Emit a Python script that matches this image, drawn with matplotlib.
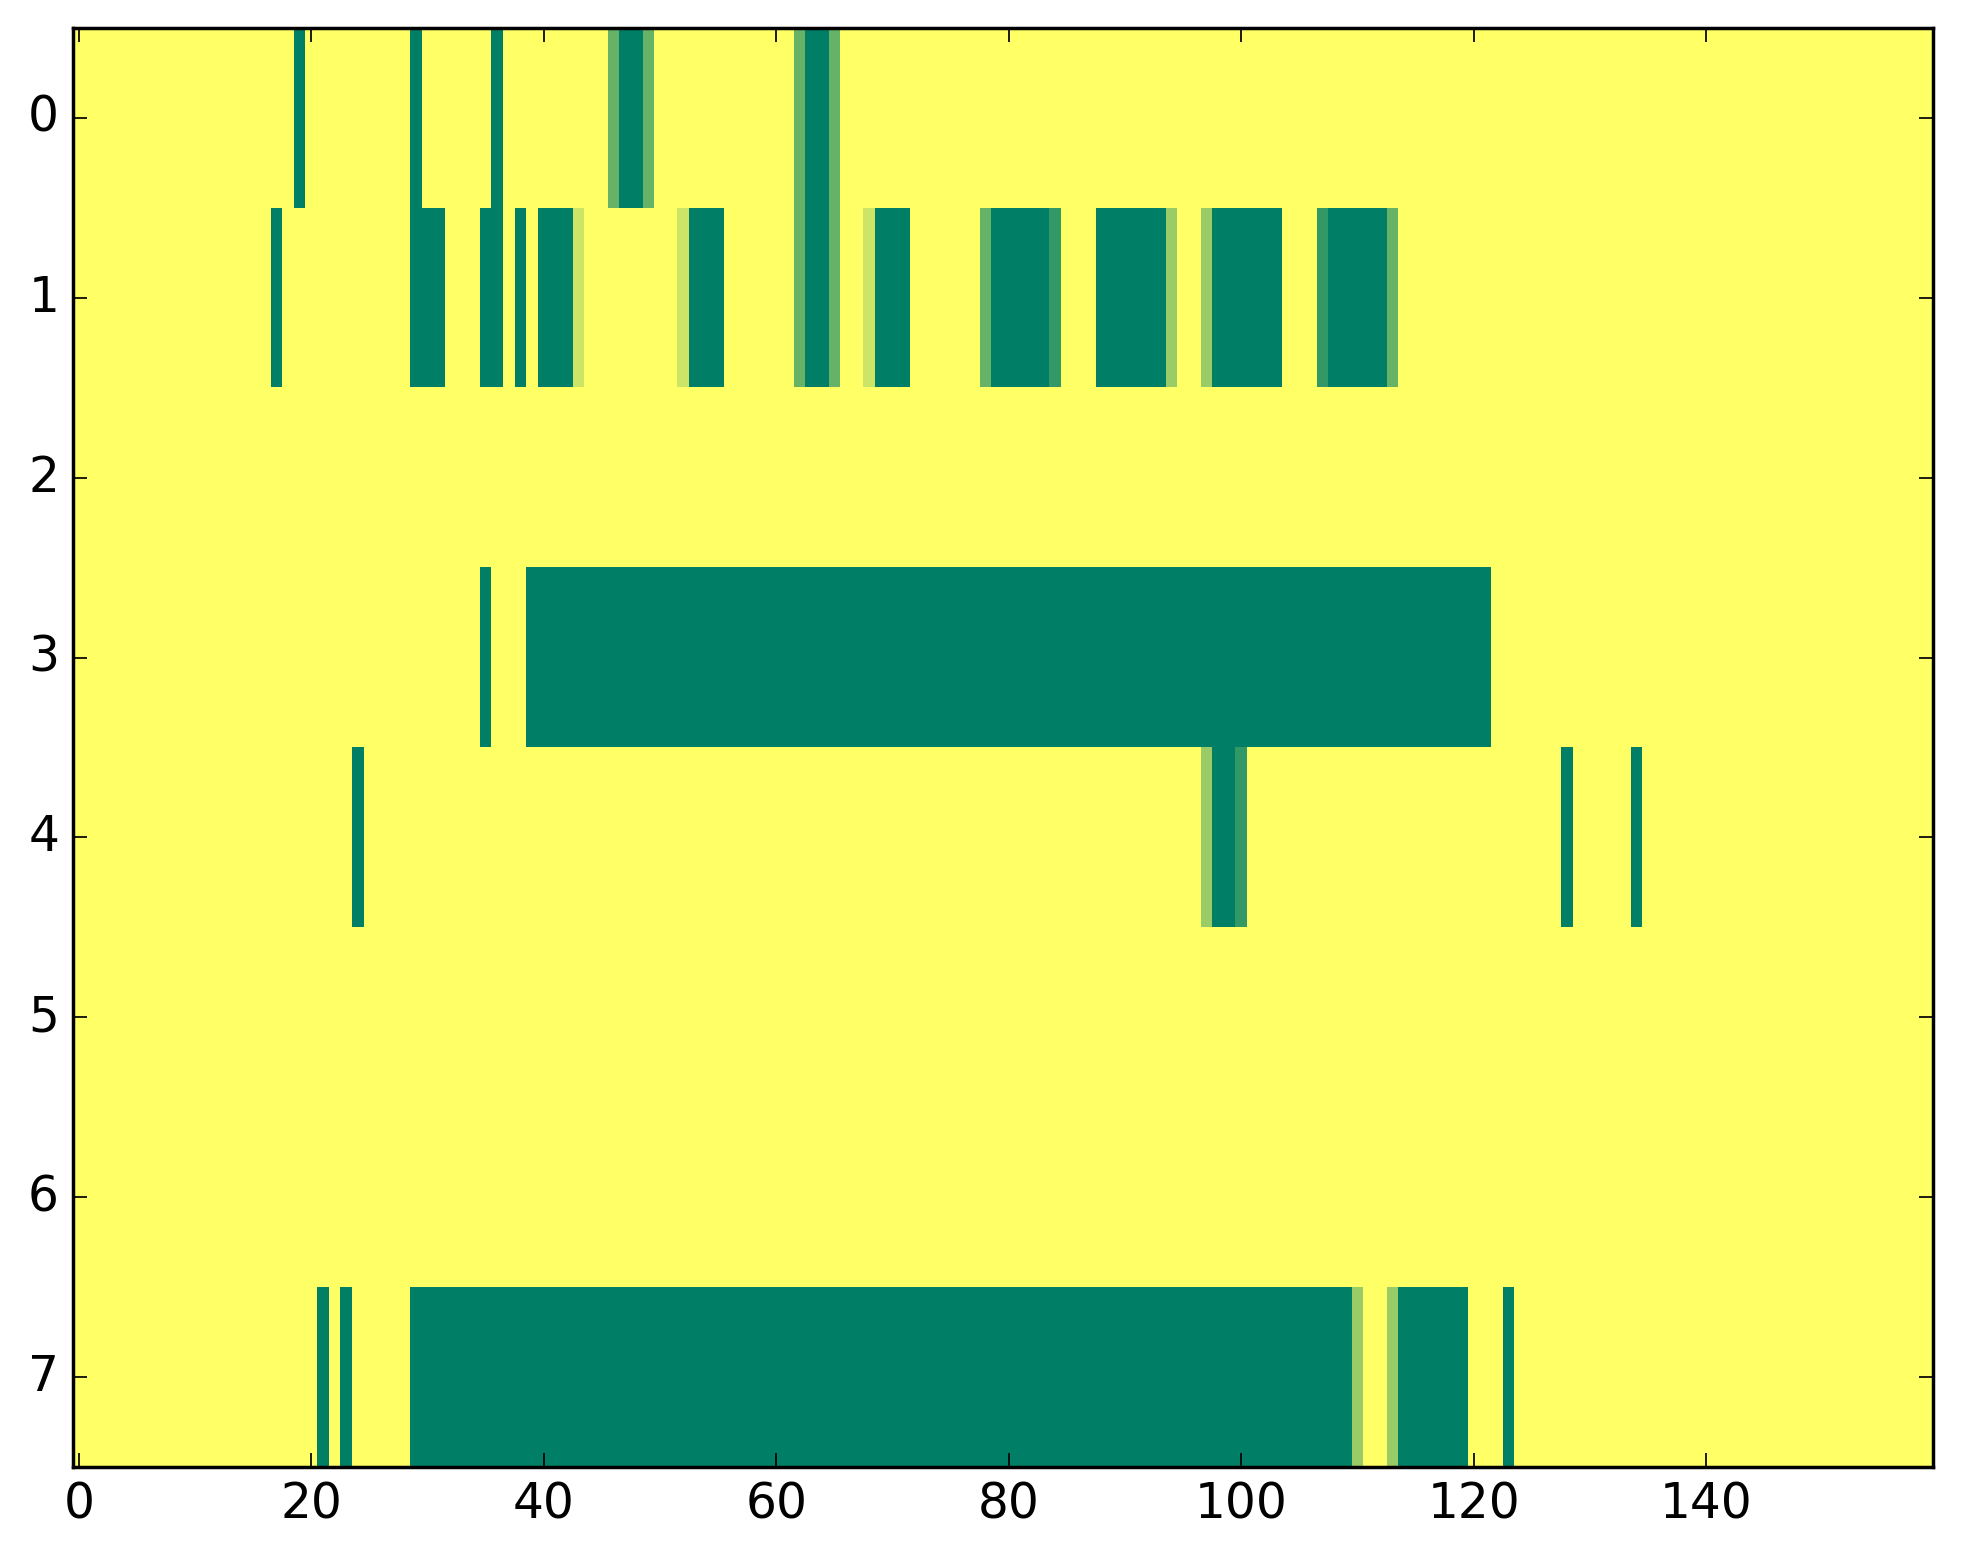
import numpy as np
import matplotlib
matplotlib.use('Agg')
import matplotlib.pyplot as plt

n_rows, n_cols = 8, 160
max_level = 5

# runs per row: (first column, last column, level 0..5)
row0 = [(19, 19, 5), (29, 29, 5), (36, 36, 5), (46, 46, 3), (47, 48, 5), (49, 49, 3),
        (62, 62, 3), (63, 64, 5), (65, 65, 3)]
row1 = [(17, 17, 5), (29, 31, 5), (35, 36, 5), (38, 38, 5), (40, 42, 5), (43, 43, 1),
        (52, 52, 1), (53, 55, 5), (62, 62, 3), (63, 64, 5), (65, 65, 3), (68, 68, 1),
        (69, 71, 5), (78, 78, 3), (79, 83, 5), (84, 84, 4), (88, 93, 5), (94, 94, 2),
        (97, 97, 2), (98, 103, 5), (107, 107, 4), (108, 112, 5), (113, 113, 3)]
row3 = [(35, 35, 5), (39, 121, 5)]
row4 = [(24, 24, 5), (97, 97, 2), (98, 99, 5), (100, 100, 4), (128, 128, 5), (134, 134, 5)]
row7 = [(21, 21, 5), (23, 23, 5), (29, 109, 5), (110, 110, 2), (113, 113, 2),
        (114, 119, 5), (123, 123, 5)]
runs = {0: row0, 1: row1, 3: row3, 4: row4, 7: row7}

grid = np.zeros((n_rows, n_cols))
for r, segs in runs.items():
    for a, b, v in segs:
        grid[r, a:b + 1] = v

plt.style.use('classic')
fig = plt.figure(figsize=(1963 / 250, 1564 / 250), dpi=250, facecolor='white')
ax = fig.add_axes([73 / 1963, 97 / 1564, 1860 / 1963, 1439 / 1564])
ax.imshow(grid / max_level, cmap='summer_r', vmin=0, vmax=1,
          interpolation='nearest', aspect='auto')
ax.tick_params(labelsize=14)

fig.savefig('out.png', dpi=250, facecolor='white')
